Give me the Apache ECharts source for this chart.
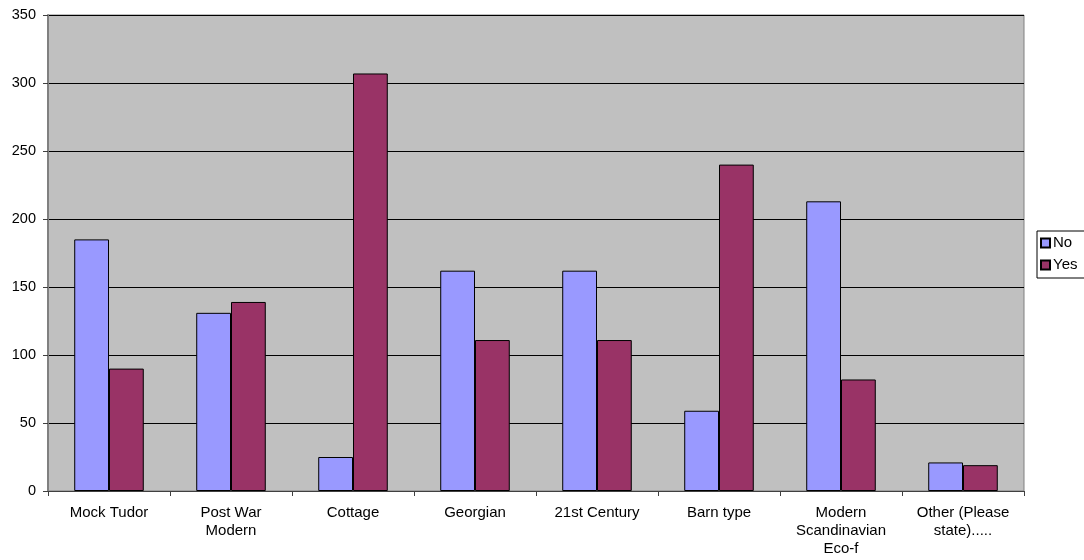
<!DOCTYPE html>
<html>
<head>
<meta charset="utf-8">
<script src="https://cdn.jsdelivr.net/npm/echarts@6/dist/echarts.min.js"></script>
<style>html,body{margin:0;padding:0;background:#fff;}#c{width:1084px;height:560px;}</style>
</head>
<body>
<div id="c"></div>
<script>
var categories = ['Mock Tudor', 'Post War\nModern', 'Cottage', 'Georgian', '21st Century', 'Barn type', 'Modern\nScandinavian\nEco-f', 'Other (Please\nstate).....'];
var seriesNames = ['No', 'Yes'];
var noValues = [185, 131, 25, 162, 162, 59, 213, 21];
var yesValues = [90, 139, 307, 111, 111, 240, 82, 19];
var yTicks = [0, 50, 100, 150, 200, 250, 300, 350];

var chart = echarts.init(document.getElementById('c'), null, {renderer: 'canvas'});
var font = '"Liberation Sans", Arial, sans-serif';
chart.setOption({
  animation: false,
  backgroundColor: '#ffffff',
  textStyle: {fontFamily: font},
  grid: {left: 48, right: 60, top: 15, bottom: 69, show: true, backgroundColor: '#C0C0C0', borderColor: '#808080', borderWidth: 1},
  legend: {
    data: seriesNames,
    orient: 'vertical',
    left: 1037, top: 231,
    icon: 'rect',
    itemWidth: 9, itemHeight: 9, itemGap: 6,
    padding: [4, 12, 5, 3],
    borderColor: '#000', borderWidth: 1,
    textStyle: {fontSize: 15, lineHeight: 16, color: '#000', fontFamily: font, padding: [0, 0, 0, -2]}
  },
  xAxis: {
    type: 'category',
    data: categories,
    axisLine: {lineStyle: {color: '#404040', width: 1}},
    axisTick: {show: true, length: 5, lineStyle: {color: '#404040'}},
    axisLabel: {color: '#000', fontSize: 15, fontFamily: font, lineHeight: 18, margin: 13, interval: 0}
  },
  yAxis: {
    type: 'value',
    min: yTicks[0], max: yTicks[yTicks.length - 1], interval: 50,
    axisLine: {show: true, lineStyle: {color: '#808080', width: 2}},
    axisTick: {show: true, length: 5, lineStyle: {color: '#404040'}},
    axisLabel: {color: '#000', fontSize: 14.5, fontFamily: font, margin: 12},
    splitLine: {lineStyle: {color: '#000', width: 1}}
  },
  series: [
    {name: seriesNames[0], type: 'bar', data: noValues, barGap: '0%', barCategoryGap: '43%',
      itemStyle: {color: '#9999FF', borderColor: '#000', borderWidth: 1}},
    {name: seriesNames[1], type: 'bar', data: yesValues, barGap: '0%', barCategoryGap: '43%',
      itemStyle: {color: '#993366', borderColor: '#000', borderWidth: 1}}
  ]
});
</script>
</body>
</html>
